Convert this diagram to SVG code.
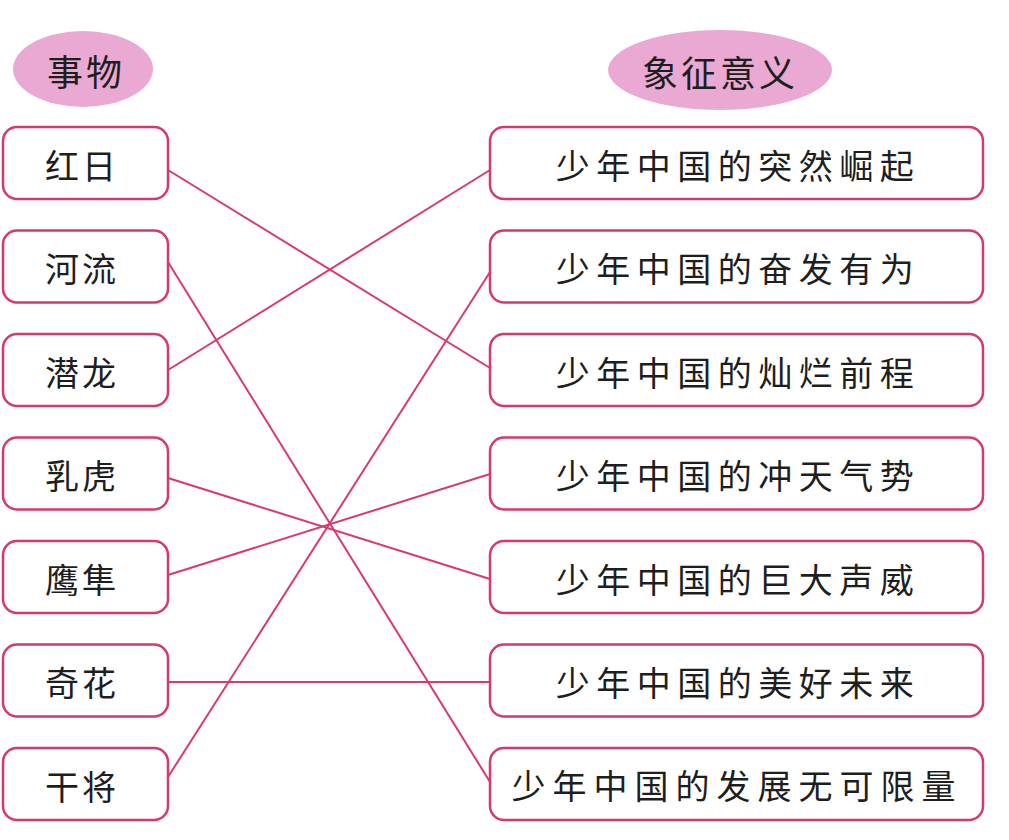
<svg xmlns="http://www.w3.org/2000/svg" width="1009" height="840" viewBox="0 0 1009 840">
<style>
.bg{fill:#ffffff}
.head{fill:#eaa9d2}
.box{fill:#ffffff;stroke:#d43a6c;stroke-width:2.5}
.t{font-family:"Noto Sans CJK SC","Noto Sans CJK TC",sans-serif;fill:#1e1e1e;text-anchor:middle;dominant-baseline:central}
.l{font-size:34px;letter-spacing:3px}
.r{font-size:34px;letter-spacing:6.5px}
.r10{font-size:34px;letter-spacing:7px}
.h{font-size:36px;letter-spacing:3px}
.c line{stroke:#d83a6e;stroke-width:2;fill:none}
</style>
<rect class="bg" x="0" y="0" width="1009" height="840"/>
<g id="head-left"><ellipse class="head" cx="83" cy="69" rx="70" ry="38"/><text class="t h" x="86" y="70">事物</text></g>
<g id="head-right"><ellipse class="head" cx="720" cy="70" rx="112" ry="40"/><text class="t h" x="720" y="71">象征意义</text></g>
<g class="c" id="connectors">
<line x1="168" y1="170" x2="490" y2="368"/>
<line x1="168" y1="262" x2="490" y2="782"/>
<line x1="168" y1="370" x2="490" y2="170"/>
<line x1="168" y1="478" x2="490" y2="579"/>
<line x1="168" y1="575" x2="490" y2="474"/>
<line x1="168" y1="682" x2="490" y2="682"/>
<line x1="168" y1="777" x2="490" y2="272"/>
</g>
<g id="l1"><rect class="box" x="3" y="127" width="165" height="72" rx="14"/><text class="t l" x="82" y="164">红日</text></g>
<g id="l2"><rect class="box" x="3" y="230.5" width="165" height="72" rx="14"/><text class="t l" x="82" y="267">河流</text></g>
<g id="l3"><rect class="box" x="3" y="334" width="165" height="72" rx="14"/><text class="t l" x="82" y="371">潜龙</text></g>
<g id="l4"><rect class="box" x="3" y="437.5" width="165" height="72" rx="14"/><text class="t l" x="82" y="474">乳虎</text></g>
<g id="l5"><rect class="box" x="3" y="541" width="165" height="72" rx="14"/><text class="t l" x="82" y="578">鹰隼</text></g>
<g id="l6"><rect class="box" x="3" y="644.5" width="165" height="72" rx="14"/><text class="t l" x="82" y="681">奇花</text></g>
<g id="l7"><rect class="box" x="3" y="748" width="165" height="72" rx="14"/><text class="t l" x="82" y="785">干将</text></g>
<g id="r1"><rect class="box" x="490" y="127" width="493" height="72" rx="14"/><text class="t r" x="738" y="164">少年中国的突然崛起</text></g>
<g id="r2"><rect class="box" x="490" y="230.5" width="493" height="72" rx="14"/><text class="t r" x="738" y="267">少年中国的奋发有为</text></g>
<g id="r3"><rect class="box" x="490" y="334" width="493" height="72" rx="14"/><text class="t r" x="738" y="371">少年中国的灿烂前程</text></g>
<g id="r4"><rect class="box" x="490" y="437.5" width="493" height="72" rx="14"/><text class="t r" x="738" y="474">少年中国的冲天气势</text></g>
<g id="r5"><rect class="box" x="490" y="541" width="493" height="72" rx="14"/><text class="t r" x="738" y="578">少年中国的巨大声威</text></g>
<g id="r6"><rect class="box" x="490" y="644.5" width="493" height="72" rx="14"/><text class="t r" x="738" y="681">少年中国的美好未来</text></g>
<g id="r7"><rect class="box" x="490" y="748" width="493" height="72" rx="14"/><text class="t r10" x="737" y="784">少年中国的发展无可限量</text></g>
</svg>
